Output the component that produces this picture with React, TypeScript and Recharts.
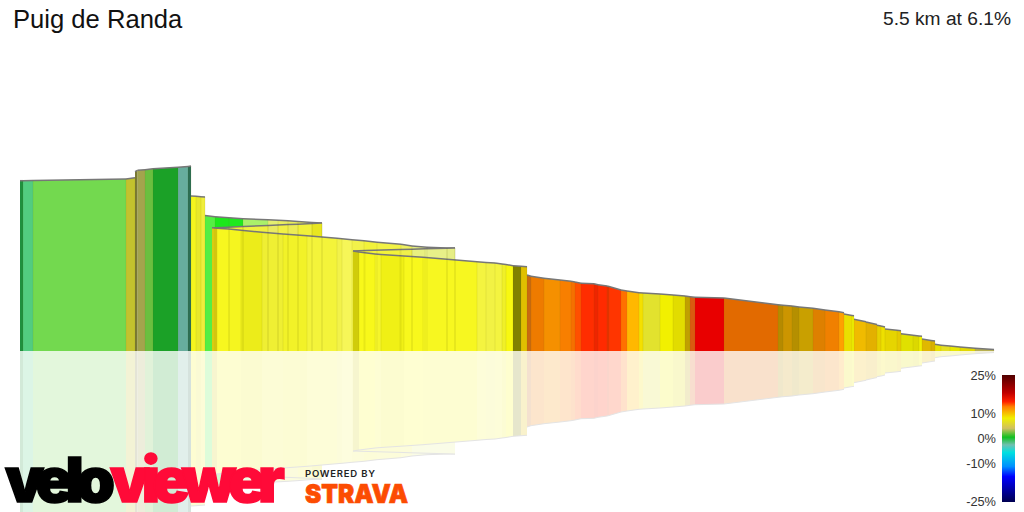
import React from 'react';
import { ComposedChart, Area, Line, XAxis, YAxis } from 'recharts';

const WIDTH = 1024;
const HEIGHT = 512;
const BASE_Y = 351;

const title = 'Puig de Randa';
const summary = '5.5 km at 6.1%';

// Each leg of the road: stops along the x axis, height over the base at each stop, colour between stops
const leg1Stops = [20, 23, 33, 126, 135];
const leg1Heights = [170.3, 170.3, 170.4, 172, 173.3];
const leg1Colors = ['#1f8f3e', '#52cc80', '#73d94f', '#c2c22e'];

const leg2Stops = [135, 137.5, 145, 153, 178, 188, 191];
const leg2Heights = [179.3, 180.7, 181.3, 182.3, 183.7, 184.5, 185];
const leg2Colors = ['#7a7a33', '#a3a44d', '#6abf3f', '#1ba127', '#67ad9d', '#2c6e54'];

const leg3Stops = [191, 196, 201, 205];
const leg3Heights = [155, 154.7, 154.3, 154];
const leg3Colors = ['#f5f51e', '#e8e82a', '#f0ee3c'];

const leg4Stops = [205, 215, 229, 243, 268, 278, 288, 298, 312, 322];
const leg4Heights = [135.5, 134.2, 133.2, 132.3, 131.3, 130.8, 130.3, 129.6, 128.5, 128];
const leg4Colors = ['#55ee44', '#1de81b', '#1fe81f', '#aaf06a', '#e4ee70', '#e8ee60', '#eaee5a', '#ecee50', '#e4e420'];

const leg5Stops = [212, 243, 268, 278, 288, 298, 312, 322];
const leg5Heights = [123, 124.4, 125.5, 125.9, 126.4, 126.8, 127.4, 128];
const leg5Colors = ['#f2f230', '#f0f040', '#eaea60', '#f1f145', '#ecec55', '#f1f13a', '#e8e620'];

const leg6Stops = [212, 217, 229, 241, 262, 283, 307, 337, 342, 352, 364, 377, 401, 412, 427, 447, 455];
const leg6Heights = [123.3, 122.8, 122, 120.7, 118.7, 117, 115.3, 112.7, 112.3, 111.3, 110.3, 108.7, 106.7, 105, 103.7, 103, 103];
const leg6Colors = ['#d9cc10', '#f7f71f', '#f5f51f', '#ecec1a', '#efef33', '#f2f228', '#f4f43a', '#f2f24a', '#f6f658', '#f2f24a', '#f2f23a', '#f2f244', '#eef060', '#e4ee80', '#e2ee88', '#e6ee85'];

const leg7Stops = [353, 365, 400, 412, 425, 447, 455];
const leg7Heights = [100, 100.4, 101.4, 101.8, 102.2, 102.8, 103];
const leg7Colors = ['#f0f03a', '#f2f23a', '#f0f04a', '#e8f080', '#e8f088', '#e6ee85'];

const leg8Stops = [353, 359, 375, 381, 404, 423, 477, 486, 495, 502, 506, 513, 521, 527];
const leg8Heights = [100, 99, 97, 96.5, 95, 93.7, 89.3, 88.5, 88, 87, 86.5, 85.3, 84.7, 84.3];
const leg8Colors = ['#d0cc0a', '#f8f81a', '#f5f52a', '#f0f015', '#f8f81c', '#f7f720', '#f4f440', '#f2f244', '#f4f440', '#f0f028', '#f8f810', '#808000', '#e0c000'];

const leg9Stops = [527, 531, 544, 560, 571, 575, 581, 594, 598, 607, 609, 621, 627, 639, 643, 660, 673, 685, 690, 695, 724, 778, 783, 792, 799, 813, 825, 839, 844];
const leg9Heights = [76, 74.7, 72.7, 71, 69.7, 69, 67.7, 67.3, 66.3, 65, 64.5, 61, 60, 58.3, 58, 57, 56, 55, 54.3, 53.7, 53, 46.3, 45.7, 45, 44, 42.7, 41, 39.3, 38.3];
const leg9Colors = ['#c96a10', '#ee7b00', '#f59000', '#f87f00', '#f57000', '#ff5000', '#ff2d00', '#ee2500', '#ff2a00', '#e63200', '#ff3500', '#ff7000', '#ffb800', '#f4e000', '#e2e22e', '#f2f000', '#e2dc00', '#c0a000', '#da5a10', '#e80000', '#e26a00', '#b58a00', '#cc9500', '#b58f00', '#c9a000', '#de8000', '#f08000', '#ffa000'];

const leg10Stops = [844, 852, 854];
const leg10Heights = [37, 35.6, 35.3];
const leg10Colors = ['#eadf00', '#f0f000'];

const leg11Stops = [854, 866];
const leg11Heights = [31.7, 29.3];
const leg11Colors = ['#f0bb00'];

const leg12Stops = [866, 877];
const leg12Heights = [29, 26.5];
const leg12Colors = ['#e3b000'];

const leg13Stops = [877, 881, 885];
const leg13Heights = [25.7, 25, 24];
const leg13Colors = ['#e8d000', '#eee000'];

const leg14Stops = [885, 897, 901];
const leg14Heights = [22, 20.8, 20.3];
const leg14Colors = ['#e6d500', '#e5ca00'];

const leg15Stops = [901, 913, 919, 922];
const leg15Heights = [17.3, 15.8, 15, 14.7];
const leg15Colors = ['#e0e000', '#dcd800', '#f0f000'];

const leg16Stops = [922, 931, 935];
const leg16Heights = [12, 10.6, 10];
const leg16Colors = ['#e0b800', '#d9b000'];

const leg17Stops = [935, 941, 950, 960, 975, 994];
const leg17Heights = [6.7, 5.7, 5, 4, 2.7, 1.5];
const leg17Colors = ['#e8e000', '#e5e020', '#e8e800', '#e2d800', '#b8b050'];

// Gradient scale on the right
const gradeLabels = ['25%', '10%', '0%', '-10%', '-25%'];
const gradeLabelY = [375, 413, 438, 463, 501];
const gradeStops = [
  ['#500000', 0],
  ['#c00000', 14],
  ['#ff2000', 21],
  ['#ff8000', 25],
  ['#f0f000', 34],
  ['#d0c060', 42],
  ['#10c020', 49],
  ['#70c0b0', 55],
  ['#00e0e0', 61],
  ['#0090ff', 72],
  ['#0000ff', 80],
  ['#000050', 100],
] as const;

const legs = [
  [leg1Stops, leg1Heights, leg1Colors],
  [leg2Stops, leg2Heights, leg2Colors],
  [leg3Stops, leg3Heights, leg3Colors],
  [leg4Stops, leg4Heights, leg4Colors],
  [leg5Stops, leg5Heights, leg5Colors],
  [leg6Stops, leg6Heights, leg6Colors],
  [leg7Stops, leg7Heights, leg7Colors],
  [leg8Stops, leg8Heights, leg8Colors],
  [leg9Stops, leg9Heights, leg9Colors],
  [leg10Stops, leg10Heights, leg10Colors],
  [leg11Stops, leg11Heights, leg11Colors],
  [leg12Stops, leg12Heights, leg12Colors],
  [leg13Stops, leg13Heights, leg13Colors],
  [leg14Stops, leg14Heights, leg14Colors],
  [leg15Stops, leg15Heights, leg15Colors],
  [leg16Stops, leg16Heights, leg16Colors],
  [leg17Stops, leg17Heights, leg17Colors],
] as [number[], number[], string[]][];

// One two-point area per coloured stretch, painted back to front
const segments = legs.flatMap(([stops, heights, colors]) =>
  colors.map((color, i) => ({
    color,
    points: [
      { x: stops[i], height: heights[i], mirror: -heights[i] },
      { x: stops[i + 1], height: heights[i + 1], mirror: -heights[i + 1] },
    ],
    // faint seam up the right edge of the stretch
    seam: [
      { x: stops[i + 1], height: 0, mirror: 0 },
      { x: stops[i + 1], height: heights[i + 1], mirror: -heights[i + 1] },
    ],
  }))
);

// The reflection is the same colour at 20% over white
const tint = (hex: string) => {
  const n = parseInt(hex.slice(1), 16);
  const mix = (c: number) => Math.round(255 - (255 - c) * 0.2);
  return `rgb(${mix((n >> 16) & 255)},${mix((n >> 8) & 255)},${mix(n & 255)})`;
};

const logoFont = 'Inter, "DejaVu Sans", sans-serif';

const App = () => (
  <div style={{ position: 'absolute', left: 0, top: 0, width: WIDTH, height: HEIGHT, overflow: 'hidden', background: '#fff', fontFamily: '"Liberation Sans", Arial, sans-serif' }}>
    <ComposedChart width={WIDTH} height={HEIGHT} margin={{ top: 0, right: 0, bottom: 0, left: 0 }}>
      <XAxis hide type="number" dataKey="x" domain={[0, WIDTH]} allowDataOverflow />
      <YAxis hide type="number" domain={[BASE_Y - HEIGHT, BASE_Y]} allowDataOverflow />
      {segments.map((s, i) => (
        <Area
          key={`m${i}`}
          data={s.points}
          dataKey="mirror"
          type="linear"
          fill={tint(s.color)}
          fillOpacity={1}
          stroke={tint('#777777')}
          strokeWidth={1}
          dot={false}
          activeDot={false}
          isAnimationActive={false}
        />
      ))}
      {segments.flatMap((s, i) => [
        <Area
          key={`h${i}`}
          data={s.points}
          dataKey="height"
          type="linear"
          fill={s.color}
          fillOpacity={1}
          stroke="#777777"
          strokeWidth={1.5}
          dot={false}
          activeDot={false}
          isAnimationActive={false}
        />,
        <Line
          key={`s${i}`}
          data={s.seam}
          dataKey="height"
          type="linear"
          stroke="#6b6b00"
          strokeOpacity={0.1}
          strokeWidth={1}
          dot={false}
          activeDot={false}
          isAnimationActive={false}
        />,
      ])}
    </ComposedChart>

    <div style={{ position: 'absolute', left: 13, top: 4, fontSize: 25.6, lineHeight: '30px', color: '#111' }}>{title}</div>
    <div style={{ position: 'absolute', right: 13, top: 7, fontSize: 19.2, lineHeight: '24px', color: '#222' }}>{summary}</div>

    <div
      style={{
        position: 'absolute',
        left: 1002,
        top: 375,
        width: 13,
        height: 127,
        background: `linear-gradient(to bottom, ${gradeStops.map(([c, p]) => `${c} ${p}%`).join(', ')})`,
      }}
    />
    {gradeLabels.map((label, i) => (
      <div
        key={label}
        style={{ position: 'absolute', right: 28, top: gradeLabelY[i] - 8, fontSize: 12.8, lineHeight: '18px', color: '#333' }}
      >
        {label}
      </div>
    ))}

    <svg width={WIDTH} height={HEIGHT} style={{ position: 'absolute', left: 0, top: 0 }}>
      <text x={5} y={502} fontFamily={logoFont} fontWeight={900} fontSize={62} fill="#000" stroke="#000" strokeWidth={1.5} textLength={110} lengthAdjust="spacing">velo</text>
      <text x={110} y={502} fontFamily={logoFont} fontWeight={900} fontSize={62} fill="#ff0a38" stroke="#ff0a38" strokeWidth={1.5} textLength={175} lengthAdjust="spacing">viewer</text>
      <text x={305} y={477} fontFamily={logoFont} fontWeight={600} fontSize={9.5} fill="#222" textLength={70} lengthAdjust="spacing">POWERED BY</text>
      <text x={305} y={503} fontFamily={logoFont} fontWeight={900} fontSize={26} fill="#fc4c02" stroke="#fc4c02" strokeWidth={0.7} textLength={103} lengthAdjust="spacingAndGlyphs">STRAVA</text>
    </svg>
  </div>
);

export default App;
